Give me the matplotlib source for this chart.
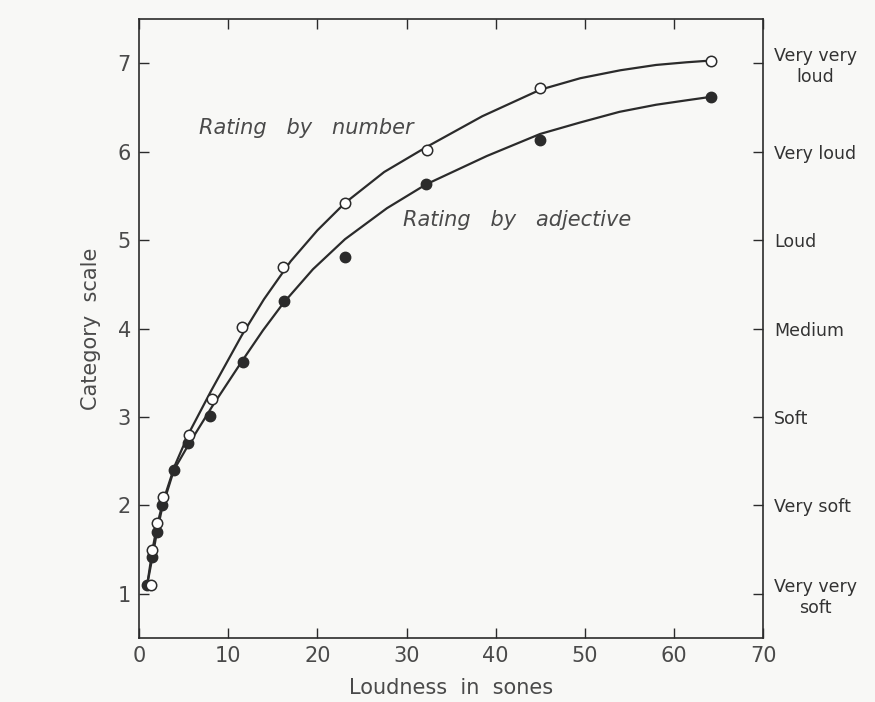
# loudness vs category scale - recreated from a scanned figure
import matplotlib
matplotlib.use('Agg')
import matplotlib.pyplot as plt

# data
###########################################################################
number_x = [1.3, 1.5, 2.0, 2.7, 5.6, 8.2, 11.5, 16.1, 23.1, 32.3, 45.0, 64.2]
number_y = [1.1, 1.5, 1.8, 2.1, 2.8, 3.2, 4.02, 4.7, 5.42, 6.02, 6.72, 7.02]

adjective_x = [0.9, 1.5, 2.0, 2.6, 3.9, 5.5, 8.0, 11.6, 16.2, 23.1, 32.2, 45.0, 64.2]
adjective_y = [1.1, 1.42, 1.7, 2.0, 2.4, 2.71, 3.01, 3.62, 4.31, 4.81, 5.63, 6.13, 6.62]

# the drawn (fitted) curves, traced point by point
number_curve_x = [0.9, 1.5, 2.0, 2.7, 4.0, 5.6, 8.1, 11.5, 14.0, 17.0, 20.0, 23.1,
                  27.5, 32.2, 38.5, 45.0, 49.5, 54.0, 58.0, 61.4, 64.2]
number_curve_y = [1.1, 1.5, 1.77, 2.05, 2.45, 2.82, 3.3, 3.92, 4.33, 4.76, 5.11, 5.42,
                  5.77, 6.05, 6.4, 6.7, 6.83, 6.92, 6.98, 7.01, 7.03]

adjective_curve_x = [0.9, 1.5, 2.0, 2.6, 3.9, 5.5, 8.2, 11.6, 13.9, 16.2, 19.5, 23.1,
                     27.8, 32.2, 39.0, 45.0, 49.5, 53.9, 58.0, 61.4, 64.2]
adjective_curve_y = [1.1, 1.42, 1.7, 1.98, 2.4, 2.68, 3.12, 3.64, 3.98, 4.29, 4.67, 5.01,
                     5.36, 5.63, 5.95, 6.2, 6.33, 6.45, 6.53, 6.58, 6.62]

x_ticks = [0, 10, 20, 30, 40, 50, 60, 70]
y_ticks = [1, 2, 3, 4, 5, 6, 7]
right_labels = ['Very very\nsoft', 'Very soft', 'Soft', 'Medium', 'Loud', 'Very loud', 'Very very\nloud']
###########################################################################

ink = '#2b2b2b'
txt = '#4a4a4a'
paper = '#f8f8f6'


def main():
    fig = plt.figure(figsize=(8.75, 7.02), dpi=100, facecolor=paper)
    ax = fig.add_axes([0.159, 0.091, 0.713, 0.882])
    ax.set_facecolor(paper)

    ax.plot(number_curve_x, number_curve_y, color=ink, lw=1.6, zorder=2,
            solid_joinstyle='round')
    ax.plot(adjective_curve_x, adjective_curve_y, color=ink, lw=1.6, zorder=2,
            solid_joinstyle='round')

    ax.plot(adjective_x, adjective_y, 'o', ms=7.5, mfc=ink, mec=ink, zorder=3)
    ax.plot(number_x, number_y, 'o', ms=7.5, mfc='white', mec=ink, mew=1.1, zorder=4)

    ax.set_xlim(0, 70)
    ax.set_ylim(0.5, 7.5)
    ax.set_xticks(x_ticks)
    ax.set_yticks(y_ticks)
    ax.tick_params(direction='in', length=7, width=1, color=ink, labelcolor=txt,
                   labelsize=15, top=True, pad=6)
    for s in ax.spines.values():
        s.set_color(ink)
        s.set_linewidth(1.2)

    ax.set_xlabel('Loudness  in  sones', fontsize=15, color=txt, labelpad=8)
    ax.set_ylabel('Category  scale', fontsize=15, color=txt, labelpad=12)

    ax.text(18.8, 6.27, 'Rating   by   number', fontsize=15, style='italic',
            color=txt, ha='center', va='center')
    ax.text(42.4, 5.23, 'Rating   by   adjective', fontsize=15, style='italic',
            color=txt, ha='center', va='center')

    ax2 = ax.twinx()
    ax2.set_ylim(0.5, 7.5)
    ax2.set_yticks(y_ticks)
    ax2.set_yticklabels(right_labels)
    ax2.tick_params(direction='in', length=7, width=1, color=ink, labelcolor='#333333',
                    labelsize=12.5, pad=8)
    for lab in ax2.get_yticklabels():
        lab.set_multialignment('center')
    for s in ax2.spines.values():
        s.set_visible(False)

    fig.savefig('out.png', dpi=100, facecolor=paper)


if __name__ == '__main__':
    main()
